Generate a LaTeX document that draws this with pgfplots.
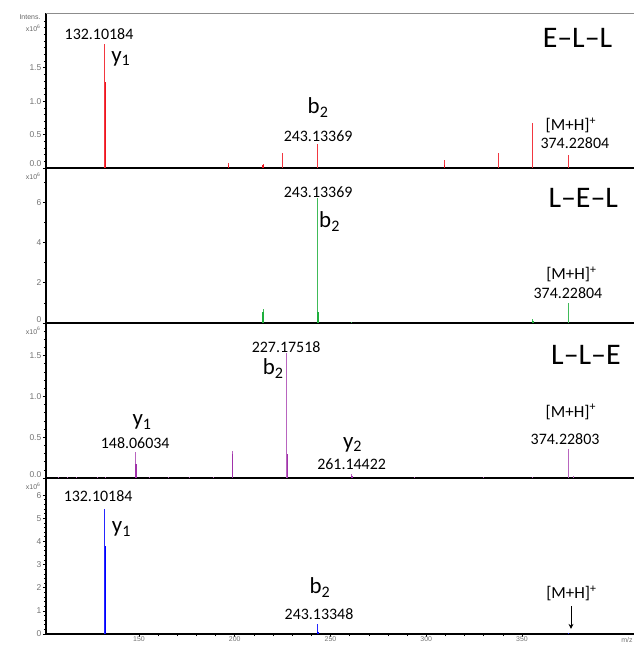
\documentclass[border=0pt]{standalone}
\usepackage{fontspec}
\setmainfont{Carlito}
\newfontfamily\tickfont{Liberation Sans}
\usepackage{pgfplots}
\pgfplotsset{compat=1.18}
\usetikzlibrary{arrows.meta}
\definecolor{cred}{RGB}{240,20,30}
\definecolor{cgreen}{RGB}{30,175,60}
\definecolor{cpurple}{RGB}{160,50,170}
\definecolor{cblue}{RGB}{0,0,255}
\pgfplotsset{
  panel/.style={
    scale only axis, width=588bp, height=155bp,
    xmin=101.4, xmax=408.5, ymin=0,
    axis x line*=bottom, axis y line*=left,
    axis line style={-, black, line width=1.3pt},
    tick align=outside,
    major tick length=3bp, minor tick length=2bp,
    every tick/.style={black, line width=0.6pt},
    xtick=\empty,
    tick label style={font=\tickfont\fontsize{8.5}{9}\selectfont, text=black!55},
    yticklabel style={inner sep=1.5pt},
    /pgf/number format/assume math mode=true,
    clip=false,
  },
  thin/.style={ycomb, line width=0.85pt, mark=none},
  thick/.style={ycomb, line width=1.5pt, mark=none},
  onedec/.style={yticklabel style={/pgf/number format/fixed, /pgf/number format/fixed zerofill, /pgf/number format/precision=1}},
}
\tikzset{
  num/.style={font=\fontsize{16}{18}\selectfont},
  ion/.style={font=\fontsize{23}{25}\selectfont},
  pep/.style={font=\fontsize{30}{32}\selectfont},
  mh/.style={font=\fontsize{17}{19}\selectfont},
  lbl/.style={font=\tickfont\fontsize{7}{8}\selectfont, text=black!60},
}
\begin{document}
\begin{tikzpicture}
\useasboundingbox (-46bp,-11bp) rectangle (588bp,634bp);
% ---------------- Panel 1 : E-L-L
\begin{axis}[panel, onedec, at={(0,466bp)}, ymax=2.32,
  ytick={0.5,1,1.5}, minor ytick={0.1,0.2,0.3,0.4,0.6,0.7,0.8,0.9,1.1,1.2,1.3,1.4,1.6,1.7,1.8,1.9,2.0,2.1,2.2},
  extra y ticks={0}, extra y tick labels={0.0},
  extra y tick style={yticklabel style={yshift=4bp}}]
\addplot[thin, cred!85] coordinates {
 (132.10,1.86) (196.5,0.07) (214.7,0.06) (225.1,0.23) (243.13,0.36)
 (309.3,0.12) (337.9,0.23) (355.6,0.67) (374.23,0.20)};
\addplot[thick, cred] coordinates {
 (132.35,1.29) (196.6,0.05) (214.8,0.04) (309.4,0.05)};
\draw[black!45, line width=0.8pt] (rel axis cs:0,1) -- (rel axis cs:1,1);
\node[lbl, anchor=south east] at (rel axis cs:0,1) [xshift=-2bp, yshift=-10bp] {Intens.};
\node[lbl, anchor=north east] at (rel axis cs:0,1) [xshift=-2bp, yshift=-9bp] {x10\textsuperscript{6}};
\node[num] at (axis cs:129.1,2.0) {132.10184};
\node[ion] at (axis cs:140.5,1.64) {y\textsubscript{1}};
\node[ion] at (axis cs:243.5,0.9) {b\textsubscript{2}};
\node[num] at (axis cs:243.5,0.48) {243.13369};
\node[mh] at (axis cs:375.5,0.64) {[M+H]\textsuperscript{+}};
\node[num] at (axis cs:377.6,0.37) {374.22804};
\node[pep] at (axis cs:379,1.95) {E\textendash L\textendash L};
\end{axis}
% ---------------- Panel 2 : L-E-L
\begin{axis}[panel, at={(0,311bp)}, ymax=7.7,
  ytick={2,4,6}, minor ytick={1,3,5,7},
  extra y ticks={0}, extra y tick labels={0},
  extra y tick style={yticklabel style={yshift=3bp}}]
\addplot[thin, cgreen!85] coordinates {
 (214.7,0.70) (243.13,6.2) (260.7,0.05) (355.6,0.20) (374.23,1.0)};
\addplot[thick, cgreen] coordinates {
 (214.8,0.55) (243.35,0.55) (355.7,0.10)};
\node[lbl, anchor=north east] at (rel axis cs:0,1) [xshift=-2bp, yshift=-1bp] {x10\textsuperscript{6}};
\node[num] at (axis cs:243.5,6.5) {243.13369};
\node[ion] at (axis cs:249.5,5.05) {b\textsubscript{2}};
\node[pep] at (axis cs:382,6.2) {L\textendash E\textendash L};
\node[mh] at (axis cs:375.8,2.4) {[M+H]\textsuperscript{+}};
\node[num] at (axis cs:374,1.5) {374.22804};
\end{axis}
% ---------------- Panel 3 : L-L-E
\begin{axis}[panel, onedec, at={(0,156bp)}, ymax=1.9,
  ytick={0.5,1,1.5}, minor ytick={0.1,0.2,0.3,0.4,0.6,0.7,0.8,0.9,1.1,1.2,1.3,1.4,1.6,1.7,1.8},
  extra y ticks={0}, extra y tick labels={0.0},
  extra y tick style={yticklabel style={yshift=3bp}}]
\addplot[thin, cpurple!75] coordinates {
 (107.8,0.012) (112.5,0.012) (117.2,0.012) (128.2,0.012) (132.4,0.012)
 (148.06,0.32) (155.2,0.012) (165.1,0.012) (176.1,0.012) (188.6,0.012)
 (198.6,0.33) (227.18,1.53) (261.1,0.05) (293.6,0.012) (329.6,0.012)
 (355.7,0.012) (374.23,0.36) (376.6,0.03)};
\addplot[thick, cpurple] coordinates {
 (148.3,0.17) (198.8,0.30) (227.4,0.30) (261.3,0.03)};
\node[lbl, anchor=north east] at (rel axis cs:0,1) [xshift=-2bp, yshift=-1bp] {x10\textsuperscript{6}};
\node[num] at (axis cs:226.8,1.6) {227.17518};
\node[ion] at (axis cs:220,1.34) {b\textsubscript{2}};
\node[ion] at (axis cs:151.6,0.69) {y\textsubscript{1}};
\node[num] at (axis cs:148,0.43) {148.06034};
\node[ion] at (axis cs:261.5,0.41) {y\textsubscript{2}};
\node[num] at (axis cs:261,0.17) {261.14422};
\node[pep] at (axis cs:383.4,1.51) {L\textendash L\textendash E};
\node[mh] at (axis cs:375.5,0.81) {[M+H]\textsuperscript{+}};
\node[num] at (axis cs:372.5,0.48) {374.22803};
\end{axis}
% ---------------- Panel 4
\begin{axis}[panel, at={(0,0)}, height=156bp, ymax=6.74,
  ytick={0,1,2,3,4,5,6}, minor y tick num=4,
  xtick={150,200,250,300,350}, minor x tick num=4,
  xticklabel style={font=\tickfont\fontsize{7}{7.5}\selectfont, inner sep=0.3pt, yshift=1.2bp}]
\addplot[thin, cblue!85] coordinates {
 (132.10,5.4) (243.13,0.45) (374.23,0.05)};
\addplot[thick, cblue] coordinates {
 (132.35,3.8) (243.35,0.10)};
\node[lbl, anchor=north east] at (rel axis cs:0,1) [xshift=-2bp, yshift=-1bp] {x10\textsuperscript{6}};
\node[num] at (axis cs:128.6,5.95) {132.10184};
\node[ion] at (axis cs:140.8,4.55) {y\textsubscript{1}};
\node[ion] at (axis cs:244.5,2.0) {b\textsubscript{2}};
\node[num] at (axis cs:244,0.87) {243.13348};
\node[mh] at (axis cs:375.8,1.75) {[M+H]\textsuperscript{+}};
\draw[-{Stealth[length=5bp,width=5bp]}, line width=0.9pt] (axis cs:375.6,1.2) -- (axis cs:375.6,0.22);
\node[font=\tickfont\fontsize{7}{7.5}\selectfont, text=black!55, inner sep=0.3pt, anchor=north east] at (rel axis cs:1,0) [xshift=-1bp, yshift=-2.8bp] {m/z};
\end{axis}
\end{tikzpicture}
\end{document}
